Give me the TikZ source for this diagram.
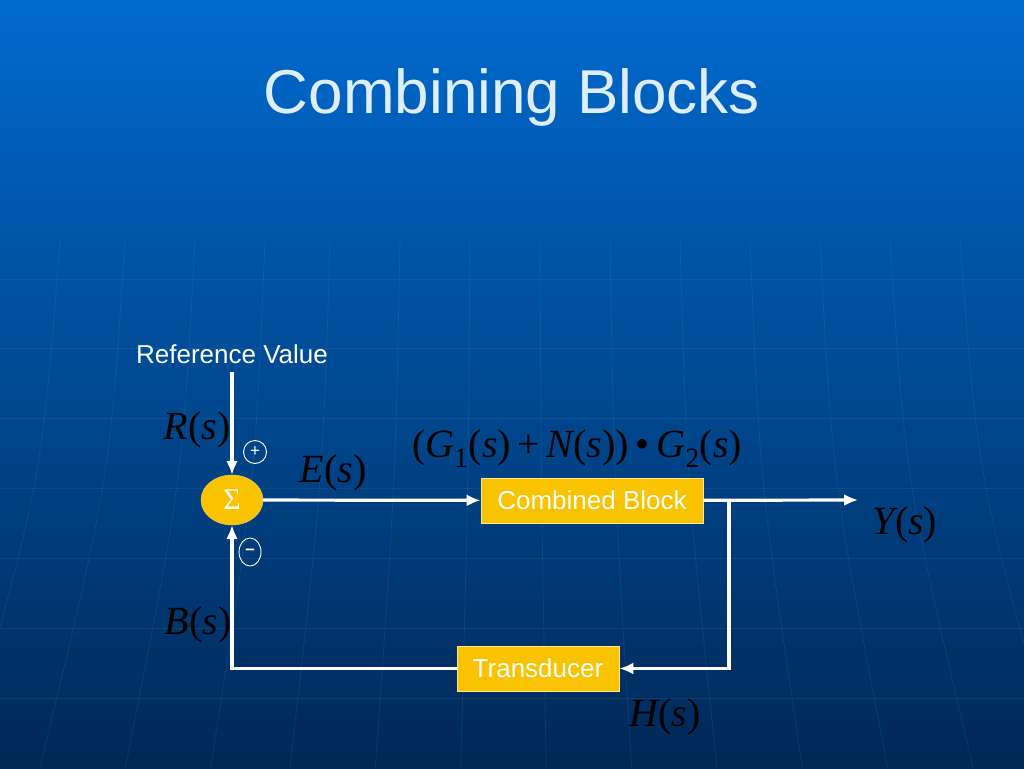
\documentclass[tikz,border=0pt]{standalone}
\usepackage{fontspec}
\setmainfont{Liberation Sans}
\newfontfamily\eqfont{Liberation Serif}
\usetikzlibrary{shapes.geometric, positioning, arrows.meta}
\definecolor{slidetop}{RGB}{0,106,206}
\definecolor{slidemid}{RGB}{0,78,162}
\definecolor{slidebot}{RGB}{0,40,86}
\definecolor{blockyellow}{RGB}{250,195,0}
\definecolor{titleblue}{RGB}{222,238,255}
\newcommand{\mv}[1]{{\eqfont\itshape #1}}
\newcommand{\eqsize}{\fontsize{40}{44}\selectfont}

\begin{document}
\begin{tikzpicture}[
		x=1pt, y=-1pt,
		>={Latex[length=14pt,width=12pt]}, % small triangle tips
		block/.style={
				draw=white!60!blockyellow,
				line width=0.8pt,
				rectangle,
				fill=blockyellow,
				text=white,
				minimum height=45pt,
				font=\fontsize{26}{30}\selectfont,
				inner sep=2pt
			},
		sum/.style={
				draw=white!40!blockyellow,
				ellipse,
				fill=blockyellow,
				text=white,
				minimum width=62pt,
				minimum height=50pt,
				inner sep=0pt,
				font=\eqfont\fontsize{30}{32}\selectfont
			},
		sign/.style={
				draw=white,
				line width=0.9pt,
				text=white,
				inner sep=0pt,
				font=\fontsize{17}{18}\selectfont
			},
		eq/.style={
				text=black,
				font=\eqsize,
				inner sep=0pt
			},
		io/.style={
				coordinate
			},
		signal/.style={
				draw=white,
				line width=3.2pt
			},
		gridline/.style={
				draw=cyan!50!white,
				line width=0.8pt,
				opacity=0.09
			}
	]
	% Background
	\useasboundingbox (0,0) rectangle (1024,768);
	\clip (0,0) rectangle (1024,768);
	\shade[top color=slidetop, middle color=slidemid, bottom color=slidebot] (0,0) rectangle (1024,768);
	\foreach \y in {279,348,418,488,558,628,698}
		\draw[gridline] (0,\y) -- (1024,\y);
	\foreach \x in {60,125,195,265,330,400,470,540,610,680,750,820,890,960}
		\draw[gridline] (\x,240) .. controls ({\x+(\x-512)*0.04},480) .. ({\x+(\x-512)*0.22},768);

	% Title
	\node[text=titleblue, font=\fontsize{62}{70}\selectfont, name=title] at (512,97) {Combining Blocks};

	% Nodes
	\node[io, name=input] at (232,372) {};
	\node[text=white, font=\fontsize{26}{30}\selectfont, above=5pt of input, name=refval] {Reference Value};
	\node[sum, name=sum] at (232,500) {Σ};
	\node[block, minimum width=222pt, name=combined] at (592,500.5) {Combined Block};
	\node[io, name=branch] at (729,500) {};
	\node[io, name=output] at (858,500) {};
	\node[block, minimum width=162pt, name=transducer] at (538,668.5) {Transducer};

	% Summing Junction Signs
	\node[sign, circle, minimum size=23pt, name=plus] at (255,452) {+};
	\node[sign, ellipse, minimum width=22pt, minimum height=28pt, name=minus] at (250,552) {\textbf{–}};

	% Signal labels
	\node[eq, name=rlabel] at (197,430) {\mv{R}{\eqfont(}\mv{s}{\eqfont)}};
	\node[eq, name=elabel] at (333,473) {\mv{E}{\eqfont(}\mv{s}{\eqfont)}};
	\node[eq, name=glabel] at (577,449) {\eqfont(\mv{G}\textsubscript{1}(\mv{s})\,+\,\mv{N}(\mv{s}))\,\textbullet\,\mv{G}\textsubscript{2}(\mv{s})};
	\node[eq, name=ylabel] at (905,525) {\mv{Y}{\eqfont(}\mv{s}{\eqfont)}};
	\node[eq, name=blabel] at (198,625) {\mv{B}{\eqfont(}\mv{s}{\eqfont)}};
	\node[eq, name=hlabel] at (665,717) {\mv{H}{\eqfont(}\mv{s}{\eqfont)}};

	% Paths
	\draw[signal, ->] (input) -- (sum);
	\draw[signal, ->] (sum) -- (combined);
	\draw[signal, ->] (combined) -- (output);
	\draw[signal, ->] (branch) |- (transducer);
	\draw[signal, ->] (transducer) -| (sum);
\end{tikzpicture}
\end{document}
